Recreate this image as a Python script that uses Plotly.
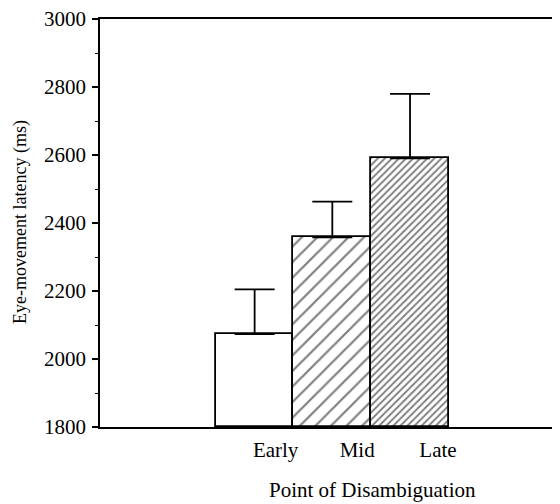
import plotly.graph_objects as go

categories = ["Early", "Mid", "Late"]
means = [2073, 2358, 2590]
errors = [132, 105, 190]
patterns = ["", "/", "/"]
pattern_sizes = [8, 11, 5]
pattern_solidity = [0.2, 0.2, 0.38]
y_ticks = [1800, 2000, 2200, 2400, 2600, 2800, 3000]
label_offsets = [0.27, 0.32, 0.36]

xpos = list(range(len(categories)))
font = "Liberation Serif, Times New Roman, serif"
FS = 21

# page body has an 8px margin; figure sized/positioned to compensate
OFF = 8
W, H = 560 - OFF, 504 - OFF
PL, PT, PB = 100, 19, 427  # plot area in page pixels
PR = 560
pw, ph = PR - PL, PB - PT

fig = go.Figure()
fig.add_trace(go.Bar(
    x=xpos, y=[m - 1800 for m in means], base=1800, width=1.0,
    marker=dict(color="white", line=dict(color="black", width=1.8),
                pattern=dict(shape=patterns, size=pattern_sizes, fgcolor="black",
                             bgcolor="white", solidity=pattern_solidity)),
    error_y=dict(type="data", array=errors, arrayminus=[0, 0, 0], symmetric=False,
                 color="black", thickness=1.8, width=20),
    showlegend=False,
))

fig.update_layout(
    width=W, height=H,
    margin=dict(l=PL - OFF, r=0, t=PT - OFF, b=H - (PB - OFF)),
    plot_bgcolor="white", paper_bgcolor="white",
    font=dict(family=font, size=FS, color="black"),
    bargap=0,
    xaxis=dict(range=[-1.99, 3.93], showgrid=False, zeroline=False, automargin=False,
               showline=True, linecolor="black", linewidth=1.8, mirror=True,
               tickvals=[p + o for p, o in zip(xpos, label_offsets)], ticktext=categories,
               ticks="", ticklabelstandoff=3, tickfont=dict(size=FS)),
    yaxis=dict(range=[1800, 3000], showgrid=False, zeroline=False, automargin=False,
               showline=True, linecolor="black", linewidth=1.8,
               tickvals=y_ticks, ticks="outside", ticklen=6, tickwidth=1.5, tickcolor="black",
               minor=dict(dtick=100, ticks="outside", ticklen=3, tickwidth=1.3, tickcolor="black"),
               tickfont=dict(size=FS), ticklabelstandoff=2, ticklabeloverflow="allow"),
    annotations=[
        dict(text="Point of Disambiguation", showarrow=False, font=dict(size=21),
             xref="paper", yref="paper",
             x=(372 - PL) / pw, y=-(490 - PB) / ph, xanchor="center", yanchor="middle"),
        dict(text="Eye-movement latency (ms)", showarrow=False, font=dict(size=18),
             textangle=-90, xref="paper", yref="paper",
             x=(20 - PL) / pw, y=(PB - 222) / ph, xanchor="center", yanchor="middle"),
    ],
)

fig.write_html("out.html")
